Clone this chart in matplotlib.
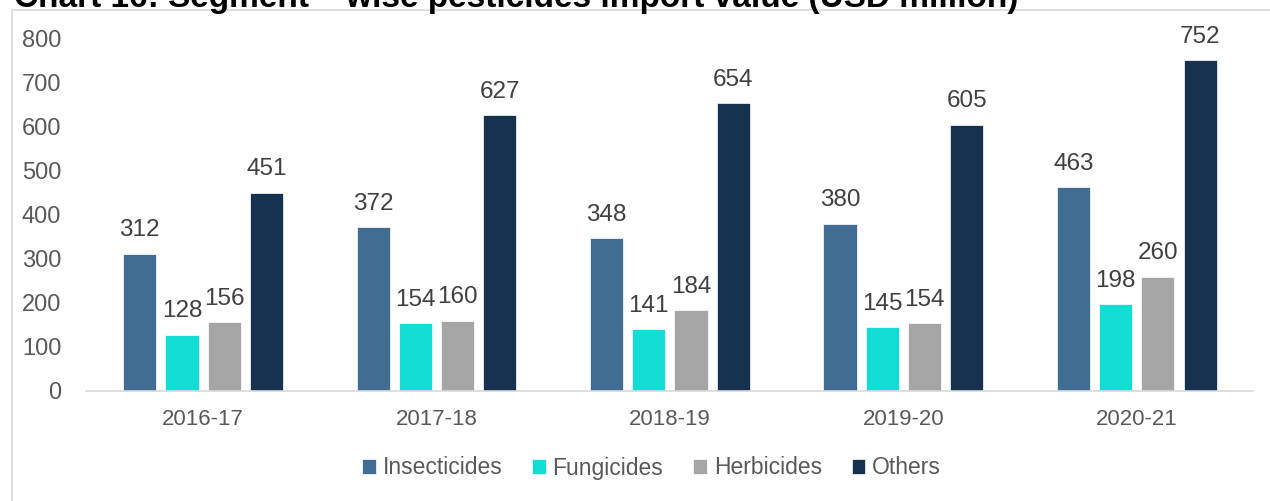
import numpy as np
import matplotlib
matplotlib.use("Agg")
import matplotlib.pyplot as plt
from matplotlib.patches import Rectangle

years = ["2016-17", "2017-18", "2018-19", "2019-20", "2020-21"]
insecticides = [312, 372, 348, 380, 463]
fungicides = [128, 154, 141, 145, 198]
herbicides = [156, 160, 184, 154, 260]
others = [451, 627, 654, 605, 752]

series = [("Insecticides", insecticides, "#416D92"),
          ("Fungicides", fungicides, "#12DDD4"),
          ("Herbicides", herbicides, "#A5A5A5"),
          ("Others", others, "#17324F")]

plt.rcParams["font.family"] = ["Liberation Sans", "DejaVu Sans"]

fig = plt.figure(figsize=(12.7, 5.01), dpi=100)
ax = fig.add_axes([0.068, 0.2196, 0.919, 0.7026])

# chart border
fig.patches.append(Rectangle((12 / 1270, -0.1), 1.2, 1 - 10 / 501 + 0.1,
                             transform=fig.transFigure, fill=False,
                             edgecolor="#D9D9D9", linewidth=1.2))

fig.text(14 / 1270, 1 - 7 / 501,
         "Chart 16: Segment \u2013 wise pesticides import value (USD million)",
         fontsize=24, fontweight="bold", color="black", va="baseline")

x = np.arange(len(years))
width = 0.142
step = 0.181
for i, (name, vals, col) in enumerate(series):
    pos = x + (i - 1.5) * step
    ax.bar(pos, vals, width, color=col, label=name,
           edgecolor="white", linewidth=0.5)
    for p, v in zip(pos, vals):
        ax.text(p, v + 28, str(v), ha="center", va="bottom",
                fontsize=17.5, color="#404040")

ax.set_xlim(-0.5, len(years) - 0.5)
ax.set_ylim(0, 800)
ax.set_yticks(range(0, 801, 100))
ax.set_xticks(x)
ax.set_xticklabels(years)
ax.tick_params(axis="both", length=0, colors="#595959")
ax.tick_params(axis="y", labelsize=17, pad=18)
ax.tick_params(axis="x", labelsize=16, pad=13)
for s in ["top", "right", "left"]:
    ax.spines[s].set_visible(False)
ax.spines["bottom"].set_color("#D9D9D9")
ax.spines["bottom"].set_linewidth(1.2)

leg = fig.legend(loc="center", bbox_to_anchor=(0.513, 1 - 468 / 501), ncol=4,
                 frameon=False, fontsize=16.5, handlelength=0.6, handleheight=0.6,
                 handletextpad=0.3, columnspacing=1.3)
for t in leg.get_texts():
    t.set_color("#595959")

fig.savefig("out.png", dpi=100)
